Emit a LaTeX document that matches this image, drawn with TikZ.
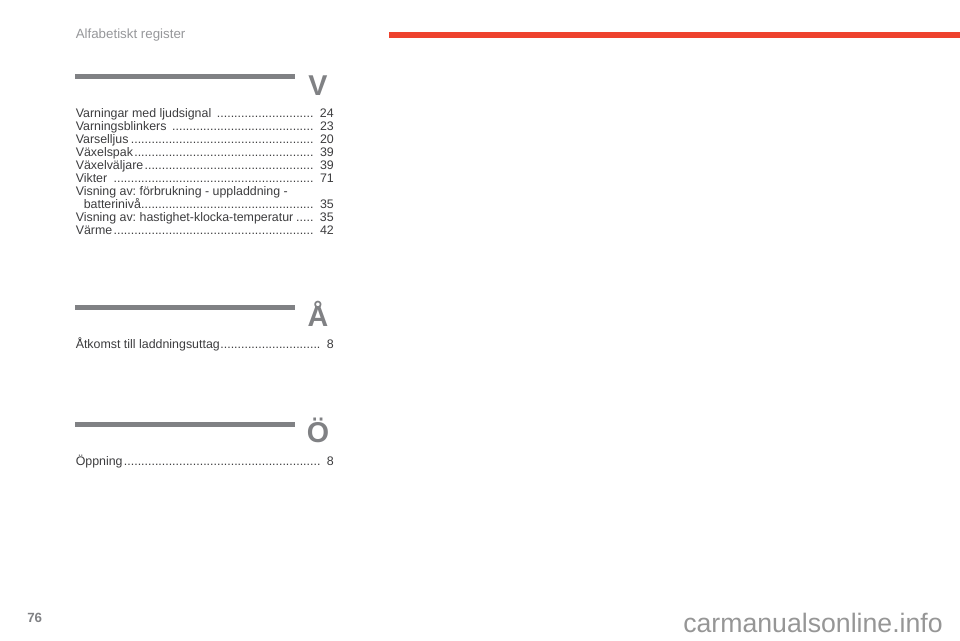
\documentclass[tikz,border=0pt]{standalone}
\usepackage{fontspec}
\setmainfont{Liberation Sans}
\usetikzlibrary{positioning}
\definecolor{barred}{RGB}{238,66,46}
\definecolor{bargrey}{RGB}{128,129,132}
\definecolor{headgrey}{RGB}{150,151,154}
\definecolor{regtext}{RGB}{60,60,62}
\definecolor{webgrey}{RGB}{150,150,150}
\newcommand{\regline}[2]{\hbox to 193.5pt{#1\leaders\hbox{.}\hfill#2}}
\frenchspacing
\tikzset{
    regentry/.style={anchor=base west, inner sep=0pt, font=\fontsize{9.3pt}{11pt}\selectfont, text=regtext},
    reghead/.style={anchor=base, inner sep=0pt, font=\fontsize{21.5pt}{24pt}\selectfont\bfseries, text=bargrey},
    regbar/.style={fill=bargrey}
}
\begin{document}
\begin{tikzpicture}[x=0.75pt,y=-0.75pt]
    \useasboundingbox (0,0) rectangle (960,640);
    \node[anchor=base west, inner sep=0pt, font=\fontsize{10pt}{12pt}\selectfont, text=headgrey] (title) at (75.5,38) {Alfabetiskt register};
    \fill[barred] (389,32) rectangle (960,38);
    % V
    \fill[regbar] (75,74) rectangle (295,79);
    \node[reghead] (letterv) at (318,95) {V};
    \foreach \y/\name/\page in {117/Varningar med ljudsignal /24,130/Varningsblinkers /23,143/Varselljus/20,156/Växelspak/39,169/Växelväljare/39,182/Vikter /71,208/\hspace{6pt}batterinivå/35,221/Visning av: hastighet-klocka-temperatur/35,234/Värme/42}
        \node[regentry] at (75.5,\y) {\regline{\name}{ \page}};
    \node[regentry] (visning) at (75.5,195) {Visning av: förbrukning - uppladdning -};
    % AA
    \fill[regbar] (75,305) rectangle (295,310);
    \node[reghead] (lettera) at (318,326) {Å};
    \node[regentry] (atkomst) at (75.5,348) {\regline{Åtkomst till laddningsuttag}{ 8}};
    % OO
    \fill[regbar] (75,422) rectangle (295,427);
    \node[reghead] (lettero) at (318,442) {Ö};
    \node[regentry] (oppning) at (75.5,465) {\regline{Öppning}{ 8}};
    \node[anchor=base west, inner sep=0pt, font=\fontsize{10pt}{12pt}\selectfont\bfseries, text=bargrey] (pagenr) at (27,622) {76};
    \node[anchor=base east, inner sep=0pt, font=\fontsize{20pt}{22pt}\selectfont, text=webgrey] (website) at (943,632) {carmanualsonline.info};
\end{tikzpicture}
\end{document}
